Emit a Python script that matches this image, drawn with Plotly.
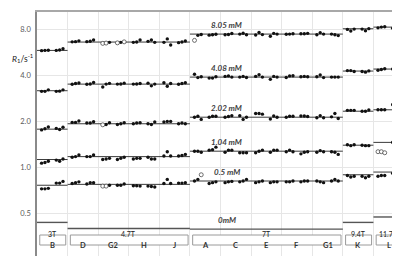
import math
import plotly.graph_objects as go

# ---------------- data ----------------
sites = ["B", "D", "G2", "H", "J", "A", "C", "E", "F", "G1", "K", "L"]
fields = ["3T", "4.7T", "7T", "9.4T", "11.7T"]
field_site_counts = [1, 4, 5, 1, 1]
conc_labels = ["8.05 mM", "4.08 mM", "2.02 mM", "1.04 mM", "0.5 mM", "0mM"]
y_tick_vals = [0.5, 1, 2, 4, 8]
y_tick_text = ["0.5", "1.0", "2.0", "4.0", "8.0"]

# reference R1 per field strength (3T, 4.7T, 7T, 9.4T, 11.7T)
ref_805 = [5.80, 6.58, 7.42, 8.04, 8.24]
ref_408 = [3.16, 3.49, 3.88, 4.25, 4.38]
ref_202 = [1.77, 1.92, 2.12, 2.32, 2.37]
ref_104 = [1.12, 1.17, 1.27, 1.39, 1.45]
ref_05 = [0.76, 0.77, 0.81, 0.89, 0.927]
ref_0 = [0.434, 0.396, 0.392, 0.434, 0.471]

# measured R1 (s^-1), 6 measurements per site, sites in order of `sites`
r1_805 = [
    [5.78, 5.80, 5.82, 5.80, 5.84, 5.95],
    [6.60, 6.62, 6.70, 6.62, 6.66, 6.78],
    [6.45, 6.48, 6.55, 6.50, 6.55, 6.60],
    [6.55, 6.58, 6.78, 6.65, 6.78, 6.55],
    [6.55, 6.90, 6.30, 6.52, 6.58, 6.68],
    [6.75, 7.28, 7.38, 7.30, 7.35, 7.40],
    [7.35, 7.38, 7.48, 7.42, 7.52, 7.35],
    [7.32, 7.60, 7.36, 7.18, 7.50, 7.42],
    [7.40, 7.42, 7.46, 7.46, 7.46, 7.50],
    [7.35, 7.58, 7.42, 7.42, 7.35, 7.25],
    [7.96, 7.77, 8.00, 8.00, 7.80, 8.05],
    [8.15, 8.24, 8.28, 8.10, 8.15, 8.30],
]
r1_408 = [
    [3.13, 3.13, 3.20, 3.13, 3.14, 3.20],
    [3.48, 3.52, 3.55, 3.48, 3.50, 3.58],
    [3.34, 3.49, 3.53, 3.49, 3.50, 3.54],
    [3.49, 3.50, 3.52, 3.54, 3.40, 3.49],
    [3.56, 3.38, 3.52, 3.48, 3.52, 3.56],
    [4.05, 3.85, 3.90, 3.82, 3.82, 3.90],
    [3.92, 3.95, 3.88, 3.88, 3.92, 3.86],
    [3.92, 4.02, 3.88, 3.75, 3.92, 3.88],
    [3.86, 3.95, 3.96, 3.90, 3.92, 3.90],
    [3.90, 4.00, 3.85, 3.88, 3.88, 3.88],
    [4.28, 4.28, 4.22, 4.22, 4.18, 4.26],
    [4.30, 4.35, 4.40, 4.38, 4.40, 4.45],
]
r1_202 = [
    [1.75, 1.78, 1.83, 1.79, 1.76, 1.82],
    [1.96, 1.96, 2.00, 1.94, 1.94, 1.98],
    [1.89, 1.90, 1.95, 1.90, 1.92, 1.95],
    [1.92, 1.94, 1.95, 1.92, 1.90, 1.97],
    [1.97, 1.99, 1.99, 1.92, 1.94, 1.92],
    [2.12, 2.15, 2.05, 2.12, 2.15, 2.15],
    [2.12, 2.14, 2.17, 2.17, 2.05, 2.12],
    [2.24, 2.24, 2.22, 2.06, 2.16, 2.12],
    [2.12, 2.15, 2.15, 2.16, 2.16, 2.14],
    [2.10, 2.17, 2.10, 2.13, 2.24, 2.08],
    [2.35, 2.35, 2.35, 2.32, 2.32, 2.36],
    [2.37, 2.37, 2.37, 2.56, 2.53, 2.50],
]
r1_104 = [
    [1.06, 1.07, 1.09, 1.11, 1.09, 1.13],
    [1.16, 1.17, 1.20, 1.17, 1.17, 1.20],
    [1.12, 1.13, 1.14, 1.12, 1.14, 1.16],
    [1.13, 1.14, 1.14, 1.16, 1.13, 1.13],
    [1.18, 1.26, 1.18, 1.18, 1.19, 1.21],
    [1.27, 1.27, 1.25, 1.29, 1.30, 1.35],
    [1.25, 1.29, 1.29, 1.24, 1.24, 1.24],
    [1.24, 1.27, 1.29, 1.25, 1.29, 1.29],
    [1.26, 1.29, 1.26, 1.22, 1.25, 1.26],
    [1.25, 1.28, 1.26, 1.26, 1.25, 1.21],
    [1.40, 1.38, 1.40, 1.39, 1.38, 1.38],
    [1.26, 1.26, 1.24, 1.45, 1.47, 1.46],
]
r1_05 = [
    [0.72, 0.72, 0.725, 0.785, 0.785, 0.805],
    [0.78, 0.79, 0.80, 0.775, 0.79, 0.79],
    [0.75, 0.75, 0.76, 0.76, 0.76, 0.775],
    [0.755, 0.755, 0.75, 0.75, 0.745, 0.74],
    [0.78, 0.83, 0.78, 0.785, 0.785, 0.79],
    [0.81, 0.83, 0.89, 0.78, 0.79, 0.80],
    [0.79, 0.80, 0.805, 0.80, 0.81, 0.83],
    [0.79, 0.80, 0.81, 0.79, 0.80, 0.80],
    [0.80, 0.80, 0.81, 0.80, 0.81, 0.81],
    [0.81, 0.80, 0.79, 0.81, 0.83, 0.81],
    [0.88, 0.86, 0.87, 0.87, 0.85, 0.87],
    [0.87, 0.88, 0.88, 0.91, 0.90, 0.91],
]

# hollow (excluded) points: (concentration, site) -> measurement indices
open_points = {
    ("8.05 mM", "G2"): [0, 1, 3, 5],
    ("8.05 mM", "A"): [0],
    ("2.02 mM", "G2"): [0],
    ("0.5 mM", "G2"): [0, 1],
    ("0.5 mM", "A"): [2],
    ("1.04 mM", "L"): [0, 1, 2],
}

refs = [ref_805, ref_408, ref_202, ref_104, ref_05, ref_0]
measured = [r1_805, r1_408, r1_202, r1_104, r1_05]

# ---------------- figure ----------------
W, H = 400, 256
ML, MR, MT, MB = 29, 2, 4, 5
plot_h = H - MT - MB
FONT = "Lato"

# point positions inside a column (two triplets)
offsets = [0.15, 0.26, 0.37, 0.63, 0.74, 0.85]

fig = go.Figure()

# field group boundaries
starts = []
s = 0
for n in field_site_counts:
    starts.append(s)
    s += n

# reference lines
for ci, ref in enumerate(refs):
    xs, ys = [], []
    for fi, v in enumerate(ref):
        xs += [starts[fi], starts[fi] + field_site_counts[fi], None]
        ys += [v, v, None]
    is_zero = conc_labels[ci] == "0mM"
    fig.add_trace(go.Scatter(
        x=xs, y=ys, mode="lines",
        line=dict(color="#555555" if is_zero else "#3a3a3a", width=1.4 if is_zero else 1.0),
        hoverinfo="skip", showlegend=False))

# data points
fx, fy, ox, oy = [], [], [], []
for ci, data in enumerate(measured):
    cl = conc_labels[ci]
    for si, vals in enumerate(data):
        hollow = open_points.get((cl, sites[si]), [])
        for k, v in enumerate(vals):
            if k in hollow:
                ox.append(si + offsets[k]); oy.append(v)
            else:
                fx.append(si + offsets[k]); fy.append(v)

fig.add_trace(go.Scatter(x=fx, y=fy, mode="markers",
                         marker=dict(size=3.4, color="#111111", line=dict(width=0)),
                         showlegend=False))
fig.add_trace(go.Scatter(x=ox, y=oy, mode="markers",
                         marker=dict(size=4, color="white", line=dict(width=0.7, color="#333333")),
                         showlegend=False))

annotations = []
# concentration labels above 7T lines
for ci, ref in enumerate(refs):
    annotations.append(dict(
        x=6.2, y=math.log10(ref[2]), xref="x", yref="y",
        text="<b><i>%s</i></b>" % conc_labels[ci], showarrow=False,
        yshift=9, font=dict(family=FONT, size=8, color="#404040")))


def py_to_paper(py):
    return (H - MB - py) / plot_h


# field boxes
shapes = []
for fi, name in enumerate(fields):
    x0 = starts[fi] + 0.09
    x1 = starts[fi] + field_site_counts[fi] - 0.06
    shapes.append(dict(type="rect", xref="x", yref="paper", x0=x0, x1=x1,
                       y0=py_to_paper(237), y1=py_to_paper(227),
                       line=dict(color="#9a9a9a", width=1), fillcolor="white", layer="above"))
    annotations.append(dict(x=starts[fi] + field_site_counts[fi] / 2, y=py_to_paper(232),
                            xref="x", yref="paper", xanchor="center",
                            text=name, showarrow=False,
                            font=dict(family=FONT, size=7, color="#222222")))

# site labels
for si, name in enumerate(sites):
    annotations.append(dict(x=si + 0.5, y=py_to_paper(244), xref="x", yref="paper",
                            text="<b>%s</b>" % name, showarrow=False,
                            font=dict(family=FONT, size=7.5, color="#333333")))

# y-axis title
annotations.append(dict(x=0, y=py_to_paper(42), xref="paper", yref="paper",
                        xanchor="right", xshift=-1,
                        text="<i>R</i><sub>1</sub>/s<sup>-1</sup>", showarrow=False,
                        font=dict(family=FONT, size=8.5, color="#222222")))

fig.update_layout(
    width=W, height=H,
    margin=dict(l=ML, r=MR, t=MT, b=MB),
    paper_bgcolor="white", plot_bgcolor="white",
    showlegend=False,
    annotations=annotations, shapes=shapes,
    xaxis=dict(range=[0, len(sites)], tickvals=list(range(len(sites) + 1)),
               showticklabels=False, showgrid=True, gridcolor="#e6e6e6", gridwidth=1,
               zeroline=False, showline=True, mirror=True, linecolor="#a8a8a8", linewidth=1.5,
               ticks=""),
    yaxis=dict(type="log", range=[math.log10(0.25), math.log10(10.35)],
               tickvals=y_tick_vals, ticktext=y_tick_text,
               showgrid=True, gridcolor="#e6e6e6", gridwidth=1, zeroline=False,
               showline=True, mirror=True, linecolor="#8a8a8a", linewidth=1.5,
               ticks="", ticklabelstandoff=3,
               tickfont=dict(family=FONT, size=7.5, color="#595959")),
)

fig.write_html("out.html")
